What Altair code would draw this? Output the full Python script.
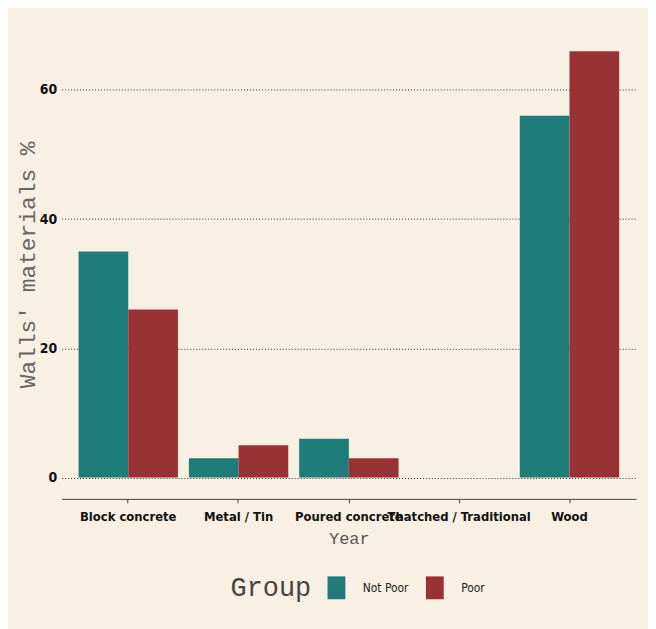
import altair as alt
import pandas as pd

categories = ["Block concrete", "Metal / Tin", "Poured concrete", "Thatched / Traditional", "Wood"]
groups = ["Not Poor", "Poor"]
not_poor = [35, 3, 6, 0, 56]
poor = [26, 5, 3, 0, 66]

rows = []
for c, a, b in zip(categories, not_poor, poor):
    rows.append({"cat": c, "group": "Not Poor", "value": a, "base": 0})
    rows.append({"cat": c, "group": "Poor", "value": b, "base": 0})
df = pd.DataFrame(rows)

bg = "#F7F0E3"
sans = "DejaVu Sans Condensed, Liberation Sans"
mono = "Liberation Mono"

chart = alt.Chart(df).mark_bar().encode(
    x=alt.X("cat:N", sort=categories, title="Year",
            scale=alt.Scale(paddingInner=0.099, paddingOuter=0.153),
            axis=alt.Axis(labelAngle=0, labelFont=sans, labelFontWeight="bold",
                          labelFontSize=13, labelColor="#111", labelOverlap=False,
                          labelLimit=0, labelPadding=8, domainColor="#444",
                          tickColor="#444", tickSize=4, grid=False,
                          titleFont=mono, titleFontSize=17, titleFontWeight="normal",
                          titleColor="#555", titlePadding=7)),
    xOffset=alt.XOffset("group:N", sort=groups),
    y=alt.Y("value:Q", title="Walls' materials %",
            scale=alt.Scale(domain=[-3.3, 69.3], nice=False, zero=False),
            axis=alt.Axis(values=[0, 20, 40, 60], labelFont=sans, labelFontWeight="bold",
                          labelFontSize=14, labelColor="#111", labelPadding=5,
                          domain=False, ticks=False, grid=True, gridDash=[1, 2],
                          gridColor="#333", gridWidth=1,
                          titleFont=mono, titleFontSize=23, titleFontWeight="normal",
                          titleColor="#666", titlePadding=0)),
    y2="base:Q",
    color=alt.Color("group:N", sort=groups,
                    scale=alt.Scale(domain=groups, range=["#207C7A", "#993235"]),
                    legend=alt.Legend(title="Group", orient="none", direction="horizontal",
                                      legendX=170, legendY=550, titleOrient="left",
                                      titleFont=mono, titleFontSize=27,
                                      titleFontWeight="normal", titleColor="#444",
                                      titlePadding=13, titleBaseline="middle",
                                      labelFont=sans, labelFontSize=12, labelColor="#222",
                                      labelOffset=15, columnPadding=14,
                                      symbolType="M-0.78,-1H0.78V1H-0.78Z",
                                      symbolSize=529, symbolStrokeWidth=0,
                                      symbolOpacity=1)),
).properties(
    width=578, height=472,
    background=bg,
    autosize=alt.AutoSizeParams(type="none"),
    padding={"left": 54, "top": 20, "right": 12, "bottom": 132},
).configure_view(stroke=None)

chart.save("out.html", embed_options={"renderer": "svg", "actions": False})
